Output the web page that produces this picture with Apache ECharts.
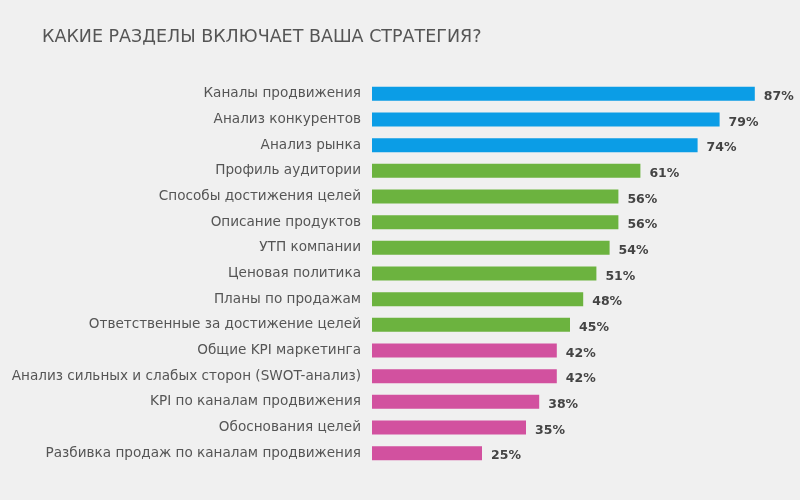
<!DOCTYPE html>
<html>
<head>
<meta charset="utf-8">
<style>
  html, body { margin: 0; padding: 0; background: #f0f0f0; }
  #chart { width: 800px; height: 500px; }
</style>
<script src="https://cdn.jsdelivr.net/npm/echarts@6/dist/echarts.min.js"></script>
</head>
<body>
<div id="chart"></div>
<script>
var categories = [
  'Каналы продвижения',
  'Анализ конкурентов',
  'Анализ рынка',
  'Профиль аудитории',
  'Способы достижения целей',
  'Описание продуктов',
  'УТП компании',
  'Ценовая политика',
  'Планы по продажам',
  'Ответственные за достижение целей',
  'Общие KPI маркетинга',
  'Анализ сильных и слабых сторон (SWOT-анализ)',
  'KPI по каналам продвижения',
  'Обоснования целей',
  'Разбивка продаж по каналам продвижения'
];
var values = [87, 79, 74, 61, 56, 56, 54, 51, 48, 45, 42, 42, 38, 35, 25];
var groups = ['blue', 'blue', 'blue', 'green', 'green', 'green', 'green', 'green', 'green', 'green',
  'pink', 'pink', 'pink', 'pink', 'pink'];
var groupColors = { blue: '#0b9de6', green: '#6cb33f', pink: '#d2519f' };

var chart = echarts.init(document.getElementById('chart'));
chart.setOption({
  backgroundColor: '#f0f0f0',
  title: {
    text: 'КАКИЕ РАЗДЕЛЫ ВКЛЮЧАЕТ ВАША СТРАТЕГИЯ?',
    left: 37,
    top: 23,
    textStyle: { fontFamily: 'DejaVu Sans', fontSize: 17.5, fontWeight: 'normal', color: '#555' }
  },
  grid: { left: 372, right: 32, top: 81, bottom: 34 },
  xAxis: {
    type: 'value', min: 0, max: 90, show: false
  },
  yAxis: {
    type: 'category',
    inverse: true,
    data: categories,
    axisLine: { show: false },
    axisTick: { show: false },
    axisLabel: { margin: 11, fontFamily: 'DejaVu Sans', fontSize: 13.6, color: '#555' }
  },
  series: [{
    type: 'bar',
    barWidth: 14,
    data: values.map(function (v, i) {
      return { value: v, itemStyle: { color: groupColors[groups[i]] } };
    }),
    label: {
      show: true,
      position: 'right',
      distance: 9,
      formatter: '{c}%',
      fontFamily: 'DejaVu Sans',
      fontSize: 12.5,
      fontWeight: 'bold',
      color: '#444',
      offset: [0, 3]
    },
    animation: false
  }]
});
</script>
</body>
</html>
